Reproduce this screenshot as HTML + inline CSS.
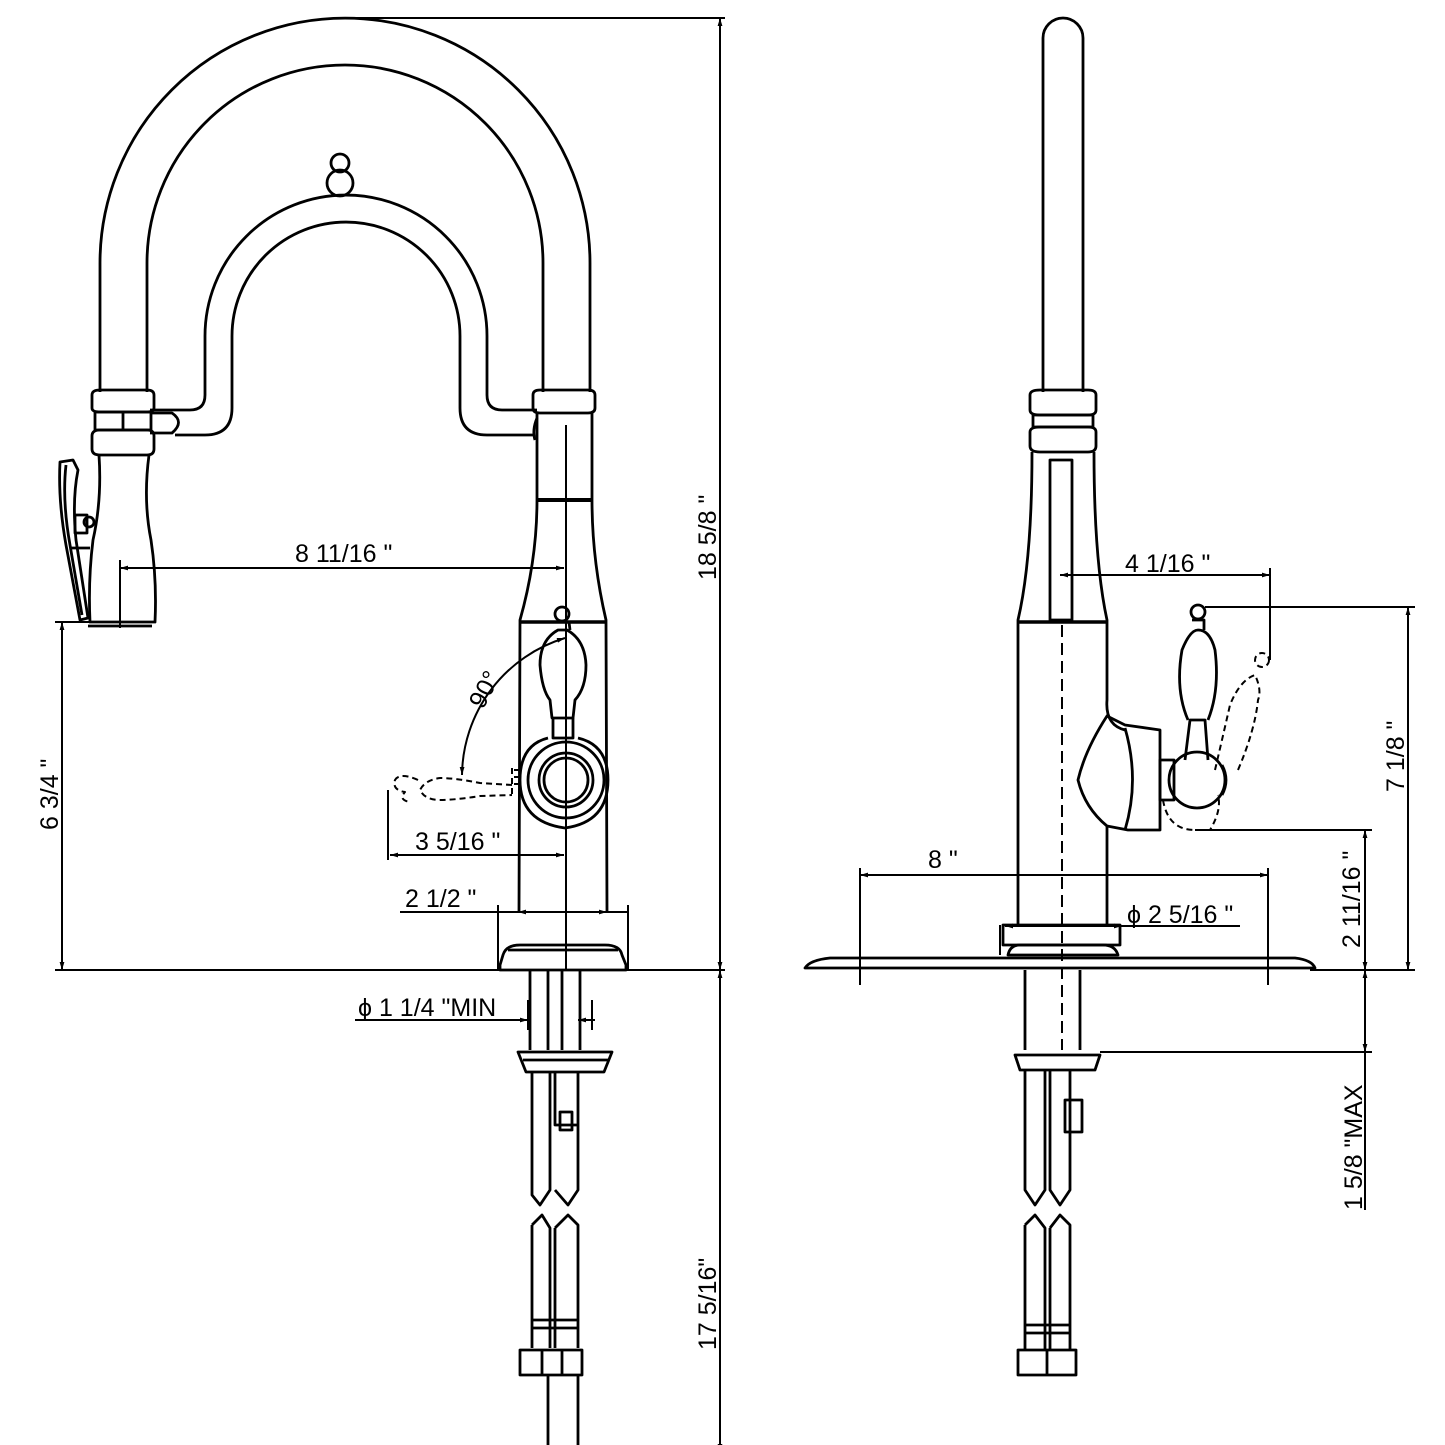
<!DOCTYPE html>
<html><head><meta charset="utf-8"><style>
html,body{margin:0;padding:0;background:#fff}
svg{display:block}
text{font-family:"Liberation Sans",sans-serif;font-size:25px;fill:#000}
</style></head><body>
<svg width="1445" height="1445" viewBox="0 0 1445 1445" xmlns="http://www.w3.org/2000/svg">
<defs>
<marker id="a" viewBox="0 0 10 10" refX="10" refY="5" markerWidth="16" markerHeight="8" orient="auto-start-reverse" markerUnits="userSpaceOnUse"><path d="M0,2 L10,5 L0,8 Z" fill="#000"/></marker>
</defs>
<g fill="none" stroke="#000" stroke-width="2.8" stroke-linejoin="round">
<path d="M100,392 L100,263 A245,245 0 0 1 590,263 L590,392"/>
<path d="M147,392 L147,263 A198,198 0 0 1 543,263 L543,392"/>
<path d="M150,410 L190,410 Q205,410 205,395 L205,336 A141,141 0 0 1 487,336 L487,395 Q487,410 502,410 L537,410"/>
<path d="M175,435 L205,435 Q232,435 232,408 L232,336 A114,114 0 0 1 460,336 L460,408 Q460,435 487,435 L533,435"/>
<path d="M150,413 L172,413 Q185,422 172,433 L150,433"/>
<circle cx="340" cy="163" r="9"/><circle cx="340" cy="183" r="13"/>
<path d="M92,395 Q92,390 100,390 L147,390 Q154,390 154,395 L154,408 Q154,412 147,412 L100,412 Q92,412 92,408 Z"/>
<rect x="95" y="412" width="56" height="18"/>
<line x1="123" y1="412" x2="123" y2="430"/>
<path d="M92,436 Q92,430 100,430 L147,430 Q154,430 154,436 L154,449 Q154,455 147,455 L100,455 Q92,455 92,449 Z"/>
<path d="M99,455 Q102,500 93,540 Q88,580 90,622 L155,622 Q157,580 151,540 Q143,500 149,455"/>
<line x1="88" y1="626" x2="152" y2="626"/>
<path d="M60,462 L73,460 L78,470 Q72,500 76,540 L88,618 L80,620 L66,545 Q58,500 60,462 Z"/>
<path d="M66,465 Q62,500 70,545 L82,615"/>
<rect x="75" y="515" width="12" height="18"/><circle cx="89" cy="522" r="5"/>
<line x1="70" y1="548" x2="90" y2="548"/>
<path d="M533,395 Q533,390 540,390 L588,390 Q595,390 595,395 L595,408 Q595,413 588,413 L540,413 Q533,413 533,408 Z"/>
<path d="M537,413 L537,500 M592,413 L592,500"/>
<path d="M537,418 Q532,430 535,440"/>
<line x1="537" y1="500" x2="592" y2="500" stroke-width="4"/>
<path d="M537,500 Q537,560 520,620 L519,912 M592,500 Q592,560 606,620 L607,912"/>
<line x1="519" y1="622" x2="607" y2="622" stroke-width="3.5"/>
<path d="M500,965 L503,955 Q506,945 520,945 L605,945 Q620,945 622,955 L626,965 L626,970 L500,970 Z"/>
<line x1="508" y1="950" x2="618" y2="950"/>
<circle cx="562" cy="614" r="7"/>
<path d="M555,622 L569,622 L570,630"/>
<path d="M558,630 Q540,640 540,665 Q542,690 550,700 L552,718 L573,718 L575,700 Q586,688 586,665 Q585,640 567,630 Z"/>
<path d="M553,718 L553,738 L573,738 L573,718"/>
<path d="M548,738 Q520,745 520,780 Q520,822 565,828 Q608,822 608,780 Q608,745 578,738"/>
<circle cx="566" cy="780" r="38"/><circle cx="566" cy="780" r="27"/><circle cx="566" cy="780" r="22"/>
<g stroke-dasharray="6,4" stroke-width="2">
<path d="M512,785 L480,783 Q455,778 440,778 Q425,780 420,790 Q425,800 440,800 Q455,800 480,796 L512,795"/>
<path d="M418,780 Q400,772 395,780 Q392,790 405,792 Q398,800 410,802"/>
<line x1="512" y1="768" x2="512" y2="795"/>
</g>
<path d="M520,770 h-6 M520,777 h-6 M520,784 h-6" stroke-width="2"/>
<path d="M530,970 L530,1050 M580,970 L580,1050 M548,970 L548,1050 M562,970 L562,1050"/>
<path d="M518,1052 L612,1052 L604,1072 L526,1072 Z"/>
<line x1="523" y1="1060" x2="608" y2="1060"/>
<path d="M532,1072 L532,1195 L540,1205 L550,1190 L550,1072 M555,1072 L555,1125 L578,1125 L578,1072 M578,1125 L578,1190 L568,1205 L555,1190"/>
<rect x="560" y="1112" width="12" height="18"/>
<path d="M532,1225 L542,1215 L550,1228 L550,1348 M532,1225 L532,1348 M555,1228 L568,1215 L578,1225 L578,1348 M555,1228 L555,1348"/>
<line x1="532" y1="1320" x2="578" y2="1320"/><line x1="532" y1="1328" x2="578" y2="1328"/>
<rect x="520" y="1350" width="62" height="25"/>
<line x1="542" y1="1350" x2="542" y2="1375"/><line x1="562" y1="1350" x2="562" y2="1375"/>
<path d="M548,1375 L548,1450 M578,1375 L578,1450"/>

<path d="M1043,392 L1043,38 A20,20 0 0 1 1083,38 L1083,392"/>
<path d="M1030,395 Q1030,390 1040,390 L1088,390 Q1096,390 1096,395 L1096,410 Q1096,415 1088,415 L1040,415 Q1030,415 1030,410 Z"/>
<rect x="1033" y="415" width="60" height="12"/>
<path d="M1030,432 Q1030,427 1040,427 L1088,427 Q1096,427 1096,432 L1096,446 Q1096,452 1088,452 L1040,452 Q1030,452 1030,446 Z"/>
<path d="M1032,452 Q1032,560 1018,620 L1018,925 M1094,452 Q1094,560 1107,620 L1107,700 Q1105,725 1125,730"/>
<path d="M1107,826 L1107,925"/>
<rect x="1050" y="460" width="22" height="160"/>
<line x1="1018" y1="622" x2="1107" y2="622" stroke-width="3.5"/>
<line x1="1062" y1="625" x2="1062" y2="1050" stroke-dasharray="12,6" stroke-width="2"/>
<path d="M1107,716 Q1085,750 1078,780 Q1085,808 1107,826 L1128,830 L1160,830 L1160,730 L1125,725 Z"/>
<path d="M1125,728 Q1140,780 1125,830"/>
<rect x="1160" y="760" width="14" height="40"/>
<circle cx="1197" cy="780" r="28"/>
<path d="M1222,765 Q1230,780 1222,795"/>
<path d="M1185,760 L1190,720 L1205,720 L1208,760"/>
<path d="M1188,720 Q1175,690 1182,650 Q1190,630 1198,630 Q1210,630 1215,650 Q1220,690 1208,720"/>
<circle cx="1198" cy="612" r="7"/>
<path d="M1192,620 L1204,620 L1204,630"/>
<g stroke-dasharray="6,4" stroke-width="2">
<path d="M1215,770 Q1222,740 1230,705 Q1240,680 1255,675 Q1262,690 1258,700 Q1255,730 1238,770"/>
<circle cx="1262" cy="660" r="7"/>
<path d="M1163,800 Q1168,830 1195,830 L1210,830 Q1222,810 1218,795"/>
</g>
<path d="M1003,925 L1120,925 L1120,945 L1003,945 Z"/>
<path d="M1008,955 Q1010,945 1020,945 L1103,945 Q1115,945 1118,955 Z"/>
<path d="M805,968 Q810,960 830,958 L1295,958 Q1312,960 1315,968 L805,968 Z"/>
<path d="M1025,970 L1025,1050 M1080,970 L1080,1050"/>
<path d="M1015,1055 L1100,1055 L1095,1070 L1020,1070 Z"/>
<path d="M1025,1070 L1025,1190 L1035,1205 L1045,1190 L1045,1070 M1050,1070 L1050,1190 L1060,1205 L1070,1190 L1070,1070"/>
<rect x="1065" y="1100" width="17" height="32"/>
<path d="M1025,1225 L1035,1215 L1045,1228 L1045,1350 M1025,1225 L1025,1350 M1050,1228 L1060,1215 L1070,1225 L1070,1350 M1050,1228 L1050,1350"/>
<line x1="1025" y1="1325" x2="1070" y2="1325"/><line x1="1025" y1="1333" x2="1070" y2="1333"/>
<rect x="1018" y="1350" width="58" height="25"/><line x1="1047" y1="1350" x2="1047" y2="1375"/>
</g>

<g fill="none" stroke="#000" stroke-width="2">
<line x1="345" y1="18" x2="725" y2="18"/>
<line x1="720" y1="18" x2="720" y2="970" marker-start="url(#a)" marker-end="url(#a)"/>
<line x1="720" y1="970" x2="720" y2="1452" marker-start="url(#a)" marker-end="url(#a)"/>
<line x1="55" y1="970" x2="725" y2="970"/>
<line x1="580" y1="1452" x2="725" y2="1452"/>
<line x1="55" y1="622" x2="92" y2="622"/>
<line x1="62" y1="622" x2="62" y2="970" marker-start="url(#a)" marker-end="url(#a)"/>
<line x1="120" y1="560" x2="120" y2="628"/>
<line x1="566" y1="425" x2="566" y2="970"/>
<line x1="120" y1="568" x2="564" y2="568" marker-start="url(#a)" marker-end="url(#a)"/>
<path d="M565,638 A145,145 0 0 0 462,775" marker-start="url(#a)" marker-end="url(#a)"/>
<line x1="388" y1="790" x2="388" y2="860"/>
<line x1="390" y1="855" x2="564" y2="855" marker-start="url(#a)" marker-end="url(#a)"/>
<line x1="400" y1="912" x2="628" y2="912"/>
<line x1="498" y1="905" x2="498" y2="970"/>
<line x1="628" y1="905" x2="628" y2="970"/>
<line x1="518" y1="912" x2="540" y2="912" marker-start="url(#a)"/>
<line x1="585" y1="912" x2="607" y2="912" marker-end="url(#a)"/>
<line x1="528" y1="1000" x2="528" y2="1030"/><line x1="592" y1="1000" x2="592" y2="1030"/>
<line x1="355" y1="1020" x2="528" y2="1020" marker-end="url(#a)"/>
<line x1="595" y1="1020" x2="578" y2="1020" marker-end="url(#a)"/>
<line x1="548" y1="1430" x2="548" y2="1460"/>
<line x1="505" y1="1452" x2="548" y2="1452" marker-end="url(#a)"/>
<line x1="580" y1="1452" x2="780" y2="1452"/>
<line x1="1060" y1="575" x2="1270" y2="575" marker-start="url(#a)" marker-end="url(#a)"/>
<line x1="1270" y1="568" x2="1270" y2="660"/>
<line x1="1205" y1="607" x2="1415" y2="607"/>
<line x1="1408" y1="607" x2="1408" y2="970" marker-start="url(#a)" marker-end="url(#a)"/>
<line x1="1195" y1="830" x2="1372" y2="830"/>
<line x1="1365" y1="830" x2="1365" y2="970" marker-start="url(#a)" marker-end="url(#a)"/>
<line x1="1310" y1="970" x2="1415" y2="970"/>
<line x1="1365" y1="970" x2="1365" y2="1052" marker-start="url(#a)" marker-end="url(#a)"/>
<line x1="1100" y1="1052" x2="1372" y2="1052"/>
<line x1="1365" y1="1052" x2="1365" y2="1210"/>
<line x1="860" y1="868" x2="860" y2="985"/>
<line x1="1268" y1="868" x2="1268" y2="985"/>
<line x1="860" y1="875" x2="1268" y2="875" marker-start="url(#a)" marker-end="url(#a)"/>
<line x1="1000" y1="925" x2="1000" y2="955"/>
<line x1="1005" y1="926" x2="1122" y2="926" marker-start="url(#a)" marker-end="url(#a)"/>
<line x1="1122" y1="926" x2="1240" y2="926"/>
</g>

<text x="295" y="562">8  11/16 "</text>
<text transform="translate(483,710) rotate(-62)">90°</text>
<text x="415" y="850">3  5/16 "</text>
<text x="405" y="907">2  1/2 "</text>
<text x="358" y="1016">ϕ 1  1/4 "MIN</text>
<text x="600" y="1480">9/16-24" UNEF</text>
<text transform="translate(716,580) rotate(-90)">18  5/8 "</text>
<text transform="translate(716,1350) rotate(-90)">17  5/16"</text>
<text transform="translate(58,830) rotate(-90)">6  3/4 "</text>
<text x="1125" y="572">4  1/16 "</text>
<text x="928" y="868">8 "</text>
<text x="1127" y="923">ϕ 2  5/16 "</text>
<text transform="translate(1404,792) rotate(-90)">7  1/8 "</text>
<text transform="translate(1360,948) rotate(-90)">2  11/16 "</text>
<text transform="translate(1362,1210) rotate(-90)">1  5/8 "MAX</text>
</svg>
</body></html>
